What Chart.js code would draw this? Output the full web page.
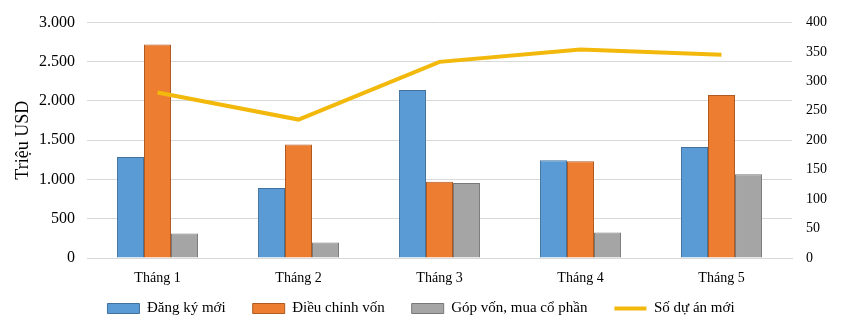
<!DOCTYPE html>
<html lang="vi">
<head>
<meta charset="utf-8">
<script src="https://cdn.jsdelivr.net/npm/chart.js@4.4.1/dist/chart.umd.min.js"></script>
<style>
  html, body { margin: 0; padding: 0; background: #ffffff; }
  #khung { width: 842px; height: 325px; position: relative; }
</style>
</head>
<body>
<div id="khung"><canvas id="bieuDo"></canvas></div>
<script>
// Dữ liệu
const thang = ['Tháng 1', 'Tháng 2', 'Tháng 3', 'Tháng 4', 'Tháng 5'];
const dangKyMoi = [1286, 891, 2139, 1244, 1412];
const dieuChinhVon = [2719, 1446, 971, 1231, 2076];
const gopVon = [311, 198, 954, 324, 1067];
const soDuAnMoi = [281, 235, 333, 354, 345];

const tenSeries = ['Đăng ký mới', 'Điều chỉnh vốn', 'Góp vốn, mua cổ phần', 'Số dự án mới'];

const fontChu = 'Liberation Serif, Times New Roman, serif';

function dinhDangSo(v) {
    // 3000 -> 3.000
    return String(v).replace(/\B(?=(\d{3})+(?!\d))/g, '.');
}

// Chú thích: khoảng cách ngang rộng nhưng chiếm ít chỗ theo chiều dọc
const chinhChuThich = {
    id: 'chinhChuThich',
    afterInit(chart) {
        const legend = chart.legend;
        const fitGoc = legend.fit.bind(legend);
        legend.fit = function () {
            fitGoc();
            this.height = 38;
        };
    },
    afterLayout(chart) {
        // kéo mép trên lên để chữ nằm gọn trong khung cắt của chú thích
        chart.legend.top -= 13;
    }
};

const ctx = document.getElementById('bieuDo').getContext('2d');

new Chart(ctx, {
    type: 'bar',
    data: {
        labels: thang,
        datasets: [
            {
                label: tenSeries[0],
                data: dangKyMoi,
                backgroundColor: '#5B9BD5',
                borderColor: '#41719C',
                borderWidth: 1,
                yAxisID: 'y',
                pointStyle: 'rect'
            },
            {
                label: tenSeries[1],
                data: dieuChinhVon,
                backgroundColor: '#ED7D31',
                borderColor: '#AE5A21',
                borderWidth: 1,
                yAxisID: 'y',
                pointStyle: 'rect'
            },
            {
                label: tenSeries[2],
                data: gopVon,
                backgroundColor: '#A5A5A5',
                borderColor: '#787878',
                borderWidth: 1,
                yAxisID: 'y',
                pointStyle: 'rect'
            },
            {
                type: 'line',
                label: tenSeries[3],
                data: soDuAnMoi,
                borderColor: '#F2B90C',
                backgroundColor: '#F2B90C',
                borderWidth: 4,
                pointRadius: 0,
                tension: 0,
                yAxisID: 'y2',
                order: -1, // vẽ đè lên các cột
                pointStyle: 'line'
            }
        ]
    },
    plugins: [chinhChuThich],
    options: {
        responsive: true,
        maintainAspectRatio: false,
        animation: false,
        datasets: {
            bar: { categoryPercentage: 0.575, barPercentage: 1 }
        },
        layout: { padding: { top: 12, right: 0, left: 0, bottom: 0 } },
        plugins: {
            tooltip: { enabled: false },
            legend: {
                position: 'bottom',
                labels: {
                    usePointStyle: true,
                    pointStyleWidth: 32,
                    boxHeight: 10,
                    padding: 27,
                    color: '#000',
                    font: { family: fontChu, size: 15 },
                    sort: (a, b) => a.datasetIndex - b.datasetIndex
                }
            }
        },
        scales: {
            x: {
                grid: { display: false, drawTicks: false },
                border: { display: true, color: '#D9D9D9' },
                ticks: { color: '#000', font: { family: fontChu, size: 14 }, padding: 12 },
                afterFit: s => { s.height = 29; }
            },
            y: {
                position: 'left',
                min: 0,
                max: 3000,
                ticks: {
                    stepSize: 500,
                    color: '#000',
                    font: { family: fontChu, size: 16 },
                    padding: 12,
                    callback: v => dinhDangSo(v)
                },
                grid: { color: '#D9D9D9', drawTicks: false },
                border: { display: false },
                title: {
                    display: true,
                    text: 'Triệu USD',
                    color: '#000',
                    font: { family: fontChu, size: 18 },
                    padding: { top: 12, bottom: 0 }
                },
                afterFit: s => { s.width = 87; }
            },
            y2: {
                position: 'right',
                min: 0,
                max: 400,
                ticks: {
                    stepSize: 50,
                    color: '#000',
                    font: { family: fontChu, size: 14 },
                    padding: 14
                },
                grid: { drawOnChartArea: false, drawTicks: false },
                border: { display: false },
                afterFit: s => { s.width = 50; }
            }
        }
    }
});
</script>
</body>
</html>
